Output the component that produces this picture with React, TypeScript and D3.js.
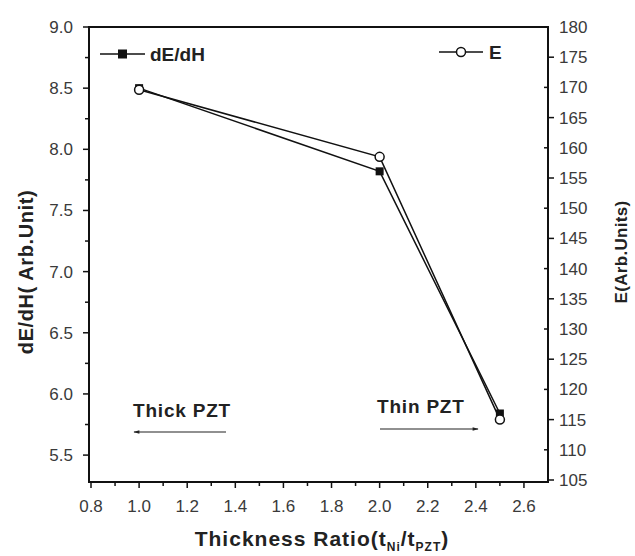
import React from "react";
import * as d3 from "d3";

const ratios = [1.0, 2.0, 2.5];
const dEdH = [8.5, 7.82, 5.84];
const E = [169.6, 158.5, 115];
const xTicks = [0.8, 1.0, 1.2, 1.4, 1.6, 1.8, 2.0, 2.2, 2.4, 2.6];
const leftTicks = [5.5, 6.0, 6.5, 7.0, 7.5, 8.0, 8.5, 9.0];
const rightTicks = [105, 110, 115, 120, 125, 130, 135, 140, 145, 150, 155, 160, 165, 170, 175, 180];

const W = 635, H = 556;
const L = 89, R = 548, T = 27, B = 482;

export default function App() {
  const x = d3.scaleLinear().domain([0.8, 2.7]).range([L + 2, R]);
  const yL = d3.scaleLinear().domain([5.28, 9.0]).range([B, T]);
  const yR = d3.scaleLinear().domain([105, 180]).range([B - 2, T]);
  const font = "'Liberation Sans', Arial, sans-serif";
  const lineL = d3.line<number>().x((_, i) => x(ratios[i])).y((d) => yL(d));
  const lineR = d3.line<number>().x((_, i) => x(ratios[i])).y((d) => yR(d));
  const xMinor = d3.range(0.9, 2.7, 0.2);
  const lMinor = d3.range(5.75, 9.0, 0.5);
  const tickFill = "#3a3a3a";
  return (
    <svg width={W} height={H} style={{ position: "absolute", left: 0, top: 0, background: "#fff" }}>
      <defs>
        <marker id="ah" viewBox="0 0 10 10" refX="9" refY="5" markerWidth="7" markerHeight="5" orient="auto-start-reverse">
          <path d="M0,2 L10,5 L0,8 z" fill="#222" />
        </marker>
      </defs>
      <rect x={L} y={T} width={R - L} height={B - T} fill="none" stroke="#111" strokeWidth={2} />
      {xTicks.map((t) => (
        <g key={"x" + t}>
          <line x1={x(t)} x2={x(t)} y1={B} y2={B + 6} stroke="#111" strokeWidth={1.5} />
          <text x={x(t)} y={B + 30} fontSize={17} fontFamily={font} textAnchor="middle" fill={tickFill}>{t.toFixed(1)}</text>
        </g>
      ))}
      {xMinor.map((t) => (
        <line key={"xm" + t} x1={x(t)} x2={x(t)} y1={B} y2={B + 4} stroke="#111" strokeWidth={1.5} />
      ))}
      {leftTicks.map((t) => (
        <g key={"l" + t}>
          <line x1={L - 6} x2={L} y1={yL(t)} y2={yL(t)} stroke="#111" strokeWidth={1.5} />
          <text x={L - 16} y={yL(t) + 6} fontSize={17} fontFamily={font} textAnchor="end" fill={tickFill}>{t.toFixed(1)}</text>
        </g>
      ))}
      {lMinor.map((t) => (
        <line key={"lm" + t} x1={L - 4} x2={L} y1={yL(t)} y2={yL(t)} stroke="#111" strokeWidth={1.5} />
      ))}
      {rightTicks.map((t, i) => (
        <g key={"r" + t}>
          <line x1={R} x2={R + (i % 2 === 0 ? 6 : -4)} y1={yR(t)} y2={yR(t)} stroke="#111" strokeWidth={1.5} />
          <text x={R + 11} y={yR(t) + 6} fontSize={17} fontFamily={font} textAnchor="start" fill={tickFill}>{t}</text>
        </g>
      ))}
      <text transform={`translate(33,272) rotate(-90)`} fontSize={20} letterSpacing={0.6} fontWeight="bold" fontFamily={font} textAnchor="middle" fill="#222">dE/dH( Arb.Unit)</text>
      <text transform={`translate(627,252) rotate(-90)`} fontSize={17} letterSpacing={0.3} fontWeight="bold" fontFamily={font} textAnchor="middle" fill="#222">E(Arb.Units)</text>
      <text x={322} y={546} fontSize={21} letterSpacing={1} fontWeight="bold" fontFamily={font} textAnchor="middle" fill="#222">
        Thickness Ratio(t<tspan fontSize={12} dy={5}>Ni</tspan><tspan dy={-5}>/t</tspan><tspan fontSize={12} dy={5}>PZT</tspan><tspan dy={-5}>)</tspan>
      </text>
      <path d={lineL(dEdH) || ""} fill="none" stroke="#111" strokeWidth={1.5} />
      <path d={lineR(E) || ""} fill="none" stroke="#111" strokeWidth={1.5} />
      {dEdH.map((v, i) => (
        <rect key={"s" + i} x={x(ratios[i]) - 4} y={yL(v) - 4} width={8} height={8} fill="#111" />
      ))}
      {E.map((v, i) => (
        <circle key={"c" + i} cx={x(ratios[i])} cy={yR(v)} r={4.5} fill="#fff" stroke="#111" strokeWidth={1.5} />
      ))}
      <line x1={100} x2={145} y1={54} y2={54} stroke="#111" strokeWidth={1.5} />
      <rect x={118} y={49.5} width={9} height={9} fill="#111" />
      <text x={150} y={61} fontSize={19} fontWeight="bold" fontFamily={font} fill="#222">dE/dH</text>
      <line x1={439} x2={483} y1={52} y2={52} stroke="#111" strokeWidth={1.5} />
      <circle cx={461} cy={52} r={4.5} fill="#fff" stroke="#111" strokeWidth={1.5} />
      <text x={489} y={59} fontSize={19} fontWeight="bold" fontFamily={font} fill="#222">E</text>
      <text x={133} y={417} fontSize={19} letterSpacing={0.8} fontWeight="bold" fontFamily={font} fill="#222">Thick PZT</text>
      <line x1={226} x2={134} y1={432} y2={432} stroke="#222" strokeWidth={1.2} markerEnd="url(#ah)" />
      <text x={377} y={413} fontSize={19} letterSpacing={0.8} fontWeight="bold" fontFamily={font} fill="#222">Thin PZT</text>
      <line x1={380} x2={478} y1={429} y2={429} stroke="#222" strokeWidth={1.2} markerEnd="url(#ah)" />
    </svg>
  );
}
